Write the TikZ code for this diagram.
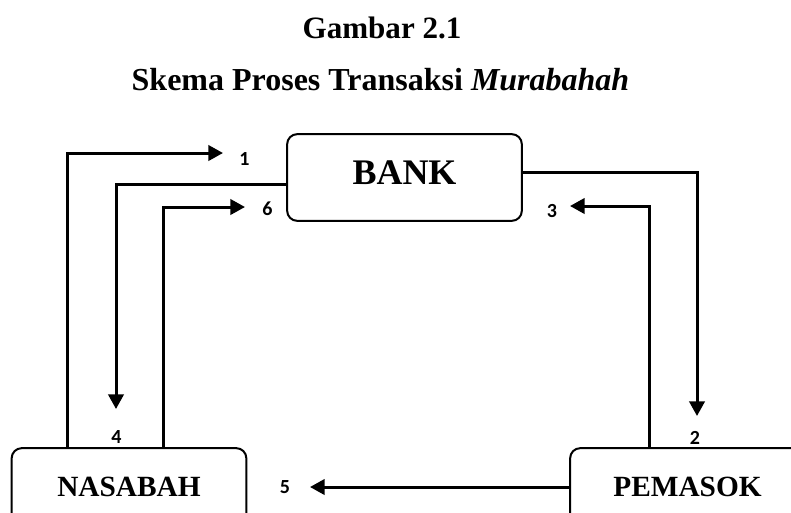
\documentclass[tikz,border=0pt]{standalone}
\usepackage{fontspec}
\setmainfont{Liberation Serif}
\newfontfamily\numfont{Carlito}
\usetikzlibrary{arrows.meta}

\tikzset{
	box/.style={draw, line width=1.5pt, rounded corners=7.5pt, minimum width=176pt, minimum height=65pt, text depth=7pt, font=\fontsize{22}{26}\selectfont\bfseries},
	flow/.style={line width=2.25pt, -{Triangle[length=11pt,width=11.5pt]}},
	num/.style={font=\numfont\fontsize{15}{18}\selectfont\bfseries},
	title/.style={font=\fontsize{23.3}{28}\selectfont\bfseries}
}

\begin{document}
\begin{tikzpicture}[x=0.75pt,y=-0.75pt]

\useasboundingbox (0,0) rectangle (791,512);
\clip (0,0) rectangle (791,512);

\node [title] (head) at (382,28) {Gambar 2.1};
\node [title, font=\fontsize{24}{29}\selectfont\bfseries] (sub) at (380.5,80) {Skema Proses Transaksi \textit{Murabahah}};

\node [box, font=\fontsize{27}{32}\selectfont\bfseries] (bank) at (404.5,177.5) {BANK};
\node [box] (nas) at (129,491.5) {NASABAH};
\node [box] (pem) at (687.5,491.5) {PEMASOK};

% corners and tips
\coordinate (k1) at (67,153);  \coordinate (t1) at (223,153);
\coordinate (k2) at (697,172); \coordinate (t2) at (697,416);
\coordinate (k3) at (649,206); \coordinate (t3) at (570,206);
\coordinate (k4) at (116,184); \coordinate (t4) at (116,409);
\coordinate (t5) at (310,487);
\coordinate (k6) at (163,207); \coordinate (t6) at (245,207);

\draw [flow] (k1 |- nas.north) -- (k1) -- (t1);
\draw [flow] (k2 -| bank.east) -- (k2) -- (t2);
\draw [flow] (k3 |- pem.north) -- (k3) -- (t3);
\draw [flow] (k4 -| bank.west) -- (k4) -- (t4);
\draw [flow] (t5 -| pem.west) -- (t5);
\draw [flow] (k6 |- nas.north) -- (k6) -- (t6);

\foreach \n/\x/\y in {1/244.5/158.5,2/695/437.5,3/552/211,4/116.5/436.5,5/285/487.5,6/267.5/209} {
	\node [num] (l\n) at (\x,\y) {\n};
}

\end{tikzpicture}
\end{document}
